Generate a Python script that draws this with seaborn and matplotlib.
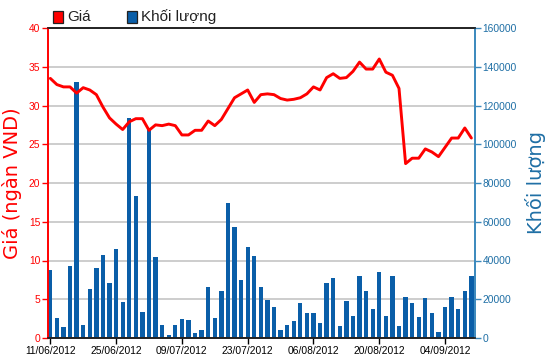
import matplotlib
matplotlib.use("Agg")
import matplotlib.pyplot as plt
from matplotlib.patches import Rectangle
import seaborn as sns
import numpy as np

# ---- data ----
price = [33.5, 32.7, 32.4, 32.4, 31.6, 32.3, 32.0, 31.4, 29.8, 28.4,
         27.6, 26.9, 27.9, 28.3, 28.3, 26.8, 27.5, 27.4, 27.6, 27.4,
         26.2, 26.2, 26.8, 26.8, 28.0, 27.4, 28.2, 29.6, 31.0, 31.5,
         32.0, 30.4, 31.4, 31.5, 31.4, 30.9, 30.7, 30.8, 31.0, 31.5,
         32.4, 32.0, 33.6, 34.1, 33.5, 33.6, 34.4, 35.6, 34.7, 34.7,
         36.0, 34.3, 33.9, 32.2, 22.5, 23.2, 23.2, 24.4, 24.0, 23.4,
         24.6, 25.8, 25.8, 27.1, 25.8]
volume = [35100, 10150, 5500, 37150, 132300, 6700, 25100, 35950, 42800, 28200,
          46100, 18400, 113500, 73300, 13400, 108200, 41600, 6900, 1800, 6900,
          9600, 9500, 2400, 4100, 26100, 10100, 24400, 69800, 57400, 29900,
          47100, 42200, 26100, 19600, 15800, 4100, 6700, 8800, 17900, 12700,
          12700, 7600, 28600, 30800, 6200, 19300, 11400, 32000, 24400, 14800,
          33900, 11400, 32000, 6200, 21000, 17900, 11000, 20500, 12700, 2900,
          15800, 21000, 14800, 24400, 32000]
day_index = list(range(len(price)))
tick_labels = ["11/06/2012", "25/06/2012", "09/07/2012", "23/07/2012",
               "06/08/2012", "20/08/2012", "04/09/2012"]
tick_step = 10
legend_labels = ["Giá", "Khối lượng"]
left_label = "Giá (ngàn VND)"
right_label = "Khối lượng"

# ---- style ----
sns.set_style("white")
plt.rcParams['font.family'] = ['Liberation Sans', 'DejaVu Sans']

RED = "#ff0000"
BAR = "#0a5ea8"
BLUE_TXT = "#1f6fa5"
BLUE_SPINE = "#3a88bd"

fig = plt.figure(figsize=(5.5, 3.64), dpi=100)
ax = fig.add_axes([48/550, 26/364, 427/550, 310/364])
ax2 = ax.twinx()

# bars on the right axis
sns.barplot(x=day_index, y=volume, ax=ax2, color=BAR, saturation=1,
            width=0.66, errorbar=None, linewidth=0)
# price line on the left axis
sns.lineplot(x=day_index, y=price, ax=ax, color=RED, linewidth=2.1)

# put price axis on top
ax.set_zorder(ax2.get_zorder() + 1)
ax.patch.set_visible(False)
ax2.patch.set_visible(True)
ax2.patch.set_facecolor("white")

ax.set_xlim(-0.35, len(price) - 0.45)
ax.set_ylim(0, 40)
ax2.set_ylim(0, 160000)

ax.set_xticks(list(range(0, len(price), tick_step))[:len(tick_labels)])
ax.set_xticklabels(tick_labels)
ax.set_yticks(np.arange(0, 41, 5))
ax.set_yticklabels([str(v) for v in range(0, 41, 5)])
ax2.set_yticks(np.arange(0, 160001, 20000))
ax2.set_yticklabels([str(v) for v in range(0, 160001, 20000)])

# grid on bar axis
ax2.yaxis.grid(True, color="#c9c9c9", linewidth=1.3)
ax2.set_axisbelow(True)
ax.grid(False)
ax2.xaxis.grid(False)

ax.tick_params(axis='x', colors="black", labelsize=7.4, length=4, width=1,
               direction='out', pad=2, bottom=True)
ax.tick_params(axis='y', colors=RED, labelsize=7.4, length=4, width=1,
               direction='out', pad=1.5, left=True)
ax2.tick_params(axis='y', colors=BLUE_TXT, labelsize=7.4, length=4, width=1,
                direction='out', pad=1.5, right=True)
for lab in ax.get_yticklabels():
    lab.set_color(RED)
for lab in ax2.get_yticklabels():
    lab.set_color(BLUE_TXT)
ax.tick_params(axis='y', color=RED)
ax2.tick_params(axis='y', color=BLUE_SPINE)

for a in (ax, ax2):
    a.spines['top'].set_color("#222222")
    a.spines['bottom'].set_color("#222222")
    a.spines['left'].set_color(RED)
    a.spines['right'].set_color(BLUE_SPINE)
    for s in a.spines.values():
        s.set_linewidth(1.2)
        s.set_visible(True)
ax2.set_xlabel("")

ax.set_ylabel(left_label, color=RED, fontsize=14, family=['DejaVu Sans'])
ax.yaxis.set_label_coords(-0.062, 0.5)
ax2.set_ylabel(right_label, color=BLUE_TXT, fontsize=14, family=['DejaVu Sans'])
ax2.yaxis.set_label_coords(1.118, 0.5)
ax.set_xlabel("")

# legend at top-left
leg_font = ['Liberation Sans Narrow', 'Liberation Sans', 'DejaVu Sans']
fig.add_artist(Rectangle((53/550, 1 - 23/364), 10/550, 12/364,
                         transform=fig.transFigure, facecolor=RED,
                         edgecolor="#222222", linewidth=0.9))
fig.text(67/550, 1 - 17/364, legend_labels[0], fontsize=11, va='center',
         ha='left', family=leg_font, color="#222222")
fig.add_artist(Rectangle((127/550, 1 - 23/364), 10/550, 12/364,
                         transform=fig.transFigure, facecolor=BAR,
                         edgecolor="#222222", linewidth=0.9))
fig.text(141/550, 1 - 17/364, legend_labels[1], fontsize=11, va='center',
         ha='left', family=leg_font, color="#222222")

fig.savefig("out.png", dpi=100)
